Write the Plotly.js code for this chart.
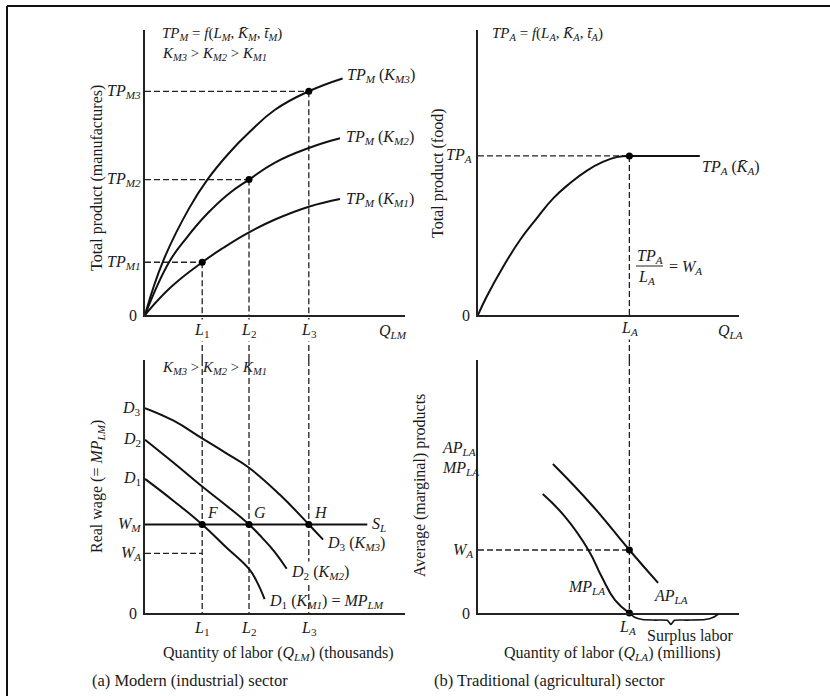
<!DOCTYPE html>
<html>
<head>
<meta charset="utf-8">
<script src="https://cdn.plot.ly/plotly-3.0.1.min.js"></script>
<style>html,body{margin:0;padding:0;background:#fff;}#chart{width:830px;height:696px;}</style>
</head>
<body>
<div id="chart"></div>
<script>
// ---------- DATA ----------
// (a) Modern sector — top: total product curves
const L_M = [2.2, 4.0, 6.3];               // L1, L2, L3
const TP_M = [1.85, 4.75, 7.85];           // TP_M1, TP_M2, TP_M3
const tpK3_x = [0, 0.7, 1.7, 2.4, 3.2, 4.0, 5.0, 6.3, 7.6];
const tpK3_y = [0, 1.9, 3.75, 4.75, 5.65, 6.4, 7.2, 7.85, 8.3];
const tpK2_x = [0, 0.93, 1.6, 2.4, 3.2, 4.0, 5.0, 6.3, 7.5];
const tpK2_y = [0, 1.86, 2.71, 3.56, 4.24, 4.75, 5.35, 5.86, 6.2];
const tpK1_x = [0, 1.0, 2.2, 3.0, 4.0, 5.0, 6.3, 7.5];
const tpK1_y = [0, 0.98, 1.85, 2.35, 2.9, 3.35, 3.8, 4.07];
// (a) Modern sector — bottom: labour demand curves
const W_M = 3.5;
const W_A_mod = 2.36;
const SL_end = 8.55;
const d3_x = [0, 1.1, 2.2, 3.1, 4.0, 5.2, 6.3, 6.85];
const d3_y = [8.1, 7.6, 6.9, 6.33, 5.74, 4.66, 3.5, 2.9];
const d2_x = [0, 1.1, 2.2, 3.1, 4.0, 4.5, 5.0, 5.45];
const d2_y = [6.85, 5.94, 5.0, 4.27, 3.5, 2.98, 2.4, 1.75];
const d1_x = [0, 1.1, 2.2, 3.1, 4.0, 4.3, 4.6];
const d1_y = [5.3, 4.43, 3.5, 2.62, 1.74, 1.24, 0.55];
// (b) Traditional sector — top: total product
const L_A = 5.8;
const TP_A = 5.58;
const tpA_x = [0, 0.33, 0.97, 1.61, 2.25, 2.89, 3.52, 4.16, 4.8, 5.31, 5.8];
const tpA_y = [0, 0.64, 1.70, 2.63, 3.39, 4.1, 4.62, 5.06, 5.38, 5.54, 5.58];
const tpA_flat_x = [5.8, 8.5];
const tpA_flat_y = [5.58, 5.58];
// (b) Traditional sector — bottom: AP and MP
const W_A = 2.49;
const ap_x = [2.87, 4.36, 5.8, 6.9];
const ap_y = [5.89, 4.27, 2.49, 1.19];
const mp_x = [2.48, 3.33, 4.23, 4.74, 5.25, 5.8];
const mp_y = [4.7, 3.81, 2.49, 1.43, 0.51, 0];
const brace_x = [5.8, 6.0, 6.3, 6.8, 7.25, 7.39, 7.53, 8.0, 8.7, 9.0, 9.2];
const brace_y = [0, -0.17, -0.26, -0.28, -0.29, -0.45, -0.29, -0.28, -0.26, -0.18, -0.05];

// ---------- LAYOUT HELPERS ----------
const W = 830, H = 696;
const X = px => px / W;
const Y = py => 1 - py / H;
const domL = [X(145), X(405)], domR = [X(478), X(739)];
const domT = [Y(315), Y(30)], domB = [Y(613), Y(360)], domBrace = [Y(633), Y(613)];

const FONT = 'Liberation Serif, Times New Roman, serif';
const INK = '#1a1a1a';
const lineStyle = {color: '#111', width: 2};

function curve(x, y, xa, ya, shape) {
  return {x: x, y: y, xaxis: xa, yaxis: ya, type: 'scatter', mode: 'lines',
    line: Object.assign({shape: shape || 'spline', smoothing: 1.3}, lineStyle),
    hoverinfo: 'skip', showlegend: false};
}
function dots(x, y, xa, ya) {
  return {x: x, y: y, xaxis: xa, yaxis: ya, type: 'scatter', mode: 'markers',
    marker: {color: '#000', size: 7}, cliponaxis: false, hoverinfo: 'skip', showlegend: false};
}

const traces = [
  curve(tpK3_x, tpK3_y, 'x', 'y'),
  curve(tpK2_x, tpK2_y, 'x', 'y'),
  curve(tpK1_x, tpK1_y, 'x', 'y'),
  dots(L_M, TP_M, 'x', 'y'),
  curve(d3_x, d3_y, 'x3', 'y3'),
  curve(d2_x, d2_y, 'x3', 'y3'),
  curve(d1_x, d1_y, 'x3', 'y3'),
  curve([0, SL_end], [W_M, W_M], 'x3', 'y3', 'linear'),
  dots(L_M, [W_M, W_M, W_M], 'x3', 'y3'),
  curve(tpA_x, tpA_y, 'x2', 'y2'),
  curve(tpA_flat_x, tpA_flat_y, 'x2', 'y2', 'linear'),
  dots([L_A], [TP_A], 'x2', 'y2'),
  curve(ap_x, ap_y, 'x4', 'y4'),
  curve(mp_x, mp_y, 'x4', 'y4'),
  dots([L_A, L_A], [W_A, 0], 'x4', 'y4'),
  Object.assign(curve(brace_x, brace_y, 'x4', 'y5'), {line: {color: '#111', width: 1.6, shape: 'spline', smoothing: 0.6}})
];

// ---------- SHAPES (guide lines, frame) ----------
const dash = {color: '#222', width: 1.3, dash: '6px,3px'};
const shapes = [];
function seg(xref, yref, x0, y0, x1, y1, line) {
  shapes.push({type: 'line', xref: xref, yref: yref, x0: x0, y0: y0, x1: x1, y1: y1, line: line || dash, layer: 'below'});
}
L_M.forEach((L, i) => {
  seg('x', 'y', 0, TP_M[i], L, TP_M[i]);
  seg('x', 'y', L, TP_M[i], L, 0);
  seg('x', 'paper', L, domB[1], L, domT[0]);
  seg('x3', 'y3', L, 10, L, 0);
});
seg('x3', 'y3', 0, W_A_mod, L_M[0], W_A_mod);
seg('x2', 'y2', 0, TP_A, L_A, TP_A);
seg('x2', 'y2', L_A, TP_A, L_A, 0);
seg('x2', 'paper', L_A, domB[1], L_A, domT[0]);
seg('x4', 'y4', L_A, 10, L_A, 0);
seg('x4', 'y4', 0, W_A, L_A, W_A);
// fraction bar
seg('paper', 'paper', X(636), Y(266), X(663), Y(266), {color: '#222', width: 1});
// frame
seg('paper', 'paper', X(7), Y(6), 1, Y(6), {color: '#111', width: 2});
seg('paper', 'paper', X(7), Y(6), X(7), 0, {color: '#111', width: 2});

// ---------- ANNOTATIONS ----------
const ann = [];
const BASE = 16;
function A(text, x, y, o) {
  ann.push(Object.assign({text: text, x: x, y: y, xref: 'paper', yref: 'paper', showarrow: false,
    xanchor: 'center', yanchor: 'middle', font: {family: FONT, size: BASE, color: INK}}, o || {}));
}
const eqFont = {family: FONT, size: 15, color: INK};
const capFont = {family: FONT, size: 16.5, color: INK};
const ineq = '<i>K<sub>M3</sub></i> > <i>K<sub>M2</sub></i> > <i>K<sub>M1</sub></i>';
const Lsub = ['<i>L</i><sub>1</sub>', '<i>L</i><sub>2</sub>', '<i>L</i><sub>3</sub>'];

// Top-left
A('<i>TP<sub>M</sub></i> = <i>f</i>(<i>L<sub>M</sub></i>, <i>K\u0304<sub>M</sub></i>, <i>t\u0304<sub>M</sub></i>)', X(160), Y(34), {xanchor: 'left', font: eqFont});
A(ineq, X(160), Y(54), {xanchor: 'left', font: eqFont});
['<i>TP<sub>M1</sub></i>', '<i>TP<sub>M2</sub></i>', '<i>TP<sub>M3</sub></i>'].forEach((t, i) =>
  A(t, X(143), TP_M[i], {xanchor: 'right', yref: 'y'}));
A('0', X(139), 0, {xanchor: 'right', yref: 'y'});
L_M.forEach((L, i) => A(Lsub[i], L, Y(330), {xref: 'x', bgcolor: '#fff'}));
A('<i>Q<sub>LM</sub></i>', X(393), Y(331));
A('<i>TP<sub>M</sub></i> (<i>K<sub>M3</sub></i>)', tpK3_x[tpK3_x.length - 1], tpK3_y[tpK3_y.length - 1], {xref: 'x', yref: 'y', xanchor: 'left', xshift: 2, yshift: 3});
A('<i>TP<sub>M</sub></i> (<i>K<sub>M2</sub></i>)', tpK2_x[tpK2_x.length - 1], tpK2_y[tpK2_y.length - 1], {xref: 'x', yref: 'y', xanchor: 'left', xshift: 4, yshift: 1});
A('<i>TP<sub>M</sub></i> (<i>K<sub>M1</sub></i>)', tpK1_x[tpK1_x.length - 1], tpK1_y[tpK1_y.length - 1], {xref: 'x', yref: 'y', xanchor: 'left', xshift: 4, yshift: 0});
A('Total product (manufactures)', X(97), Y(178), {textangle: -90});

// Bottom-left
A(ineq, X(160), Y(368), {xanchor: 'left', font: eqFont});
A('<i>D</i><sub>3</sub>', X(143), d3_y[0], {xanchor: 'right', yref: 'y3'});
A('<i>D</i><sub>2</sub>', X(143), d2_y[0], {xanchor: 'right', yref: 'y3'});
A('<i>D</i><sub>1</sub>', X(143), d1_y[0], {xanchor: 'right', yref: 'y3'});
A('<i>W<sub>M</sub></i>', X(143), W_M, {xanchor: 'right', yref: 'y3'});
A('<i>W<sub>A</sub></i>', X(143), W_A_mod, {xanchor: 'right', yref: 'y3'});
A('0', X(139), 0, {xanchor: 'right', yref: 'y3'});
['<i>F</i>', '<i>G</i>', '<i>H</i>'].forEach((t, i) =>
  A(t, L_M[i], W_M, {xref: 'x3', yref: 'y3', xanchor: 'left', yanchor: 'bottom', xshift: 3, yshift: 1}));
A('<i>S<sub>L</sub></i>', SL_end, W_M, {xref: 'x3', yref: 'y3', xanchor: 'left', xshift: 3});
A('<i>D</i><sub>3</sub> (<i>K<sub>M3</sub></i>)', d3_x[d3_x.length - 1], d3_y[d3_y.length - 1], {xref: 'x3', yref: 'y3', xanchor: 'left', xshift: 2, yshift: -4});
A('<i>D</i><sub>2</sub> (<i>K<sub>M2</sub></i>)', d2_x[d2_x.length - 1], d2_y[d2_y.length - 1], {xref: 'x3', yref: 'y3', xanchor: 'left', xshift: 2, yshift: -4, bgcolor: '#fff'});
A('<i>D</i><sub>1</sub> (<i>K<sub>M1</sub></i>) = <i>MP<sub>LM</sub></i>', d1_x[d1_x.length - 1], d1_y[d1_y.length - 1], {xref: 'x3', yref: 'y3', xanchor: 'left', xshift: 2, yshift: -2});
L_M.forEach((L, i) => A(Lsub[i], L, Y(628), {xref: 'x3'}));
A('Quantity of labor (<i>Q<sub>LM</sub></i>) (thousands)', X(278), Y(653));
A('(a) Modern (industrial) sector', X(90), Y(680), {xanchor: 'left', font: capFont});
A('Real wage (= <i>MP<sub>LM</sub></i>)', X(97), Y(487), {textangle: -90});

// Top-right
A('<i>TP<sub>A</sub></i> = <i>f</i>(<i>L<sub>A</sub></i>, <i>K\u0304<sub>A</sub></i>, <i>t\u0304<sub>A</sub></i>)', X(490), Y(34), {xanchor: 'left', font: eqFont});
A('<i>TP<sub>A</sub></i>', X(474), TP_A, {xanchor: 'right', yref: 'y2'});
A('0', X(472), 0, {xanchor: 'right', yref: 'y2'});
A('<i>L<sub>A</sub></i>', L_A, Y(328), {xref: 'x2', bgcolor: '#fff'});
A('<i>Q<sub>LA</sub></i>', X(730), Y(331));
A('<i>TP<sub>A</sub></i> (<i>K\u0304<sub>A</sub></i>)', tpA_flat_x[1], TP_A, {xref: 'x2', yref: 'y2', xanchor: 'left', yshift: -12});
A('<i>TP<sub>A</sub></i>', X(650), Y(256));
A('<i>L<sub>A</sub></i>', X(646), Y(277));
A('= <i>W<sub>A</sub></i>', X(667), Y(267), {xanchor: 'left'});
A('Total product (food)', X(438), Y(173), {textangle: -90});

// Bottom-right
A('<i>AP<sub>LA</sub></i>', X(440), Y(448), {xanchor: 'left'});
A('<i>MP<sub>LA</sub></i>', X(440), Y(468), {xanchor: 'left'});
A('<i>W<sub>A</sub></i>', X(475), W_A, {xanchor: 'right', yref: 'y4'});
A('0', X(472), 0, {xanchor: 'right', yref: 'y4'});
A('<i>MP<sub>LA</sub></i>', X(586), Y(587));
A('<i>AP<sub>LA</sub></i>', X(652), Y(596), {xanchor: 'left'});
A('<i>L<sub>A</sub></i>', L_A, Y(627), {xref: 'x4', xshift: -2});
A('Surplus labor', X(645), Y(636), {xanchor: 'left'});
A('Quantity of labor (<i>Q<sub>LA</sub></i>) (millions)', X(612), Y(653));
A('(b) Traditional (agricultural) sector', X(432), Y(680), {xanchor: 'left', font: capFont});
A('Average (marginal) products', X(420), Y(485), {textangle: -90});

// ---------- AXES ----------
function ax(domain, anchor, range, extra) {
  return Object.assign({domain: domain, anchor: anchor, range: range, showline: true, linecolor: '#222', linewidth: 1.6,
    showgrid: false, zeroline: false, showticklabels: false, ticks: '', fixedrange: true}, extra || {});
}
const layout = {
  width: W, height: H,
  margin: {l: 0, r: 0, t: 0, b: 0},
  paper_bgcolor: '#fff', plot_bgcolor: 'rgba(0,0,0,0)',
  showlegend: false,
  font: {family: FONT, size: BASE, color: INK},
  xaxis: ax(domL, 'y', [0, 10]),
  yaxis: ax(domT, 'x', [0, 10]),
  xaxis2: ax(domR, 'y2', [0, 10]),
  yaxis2: ax(domT, 'x2', [0, 10]),
  xaxis3: ax(domL, 'y3', [0, 10]),
  yaxis3: ax(domB, 'x3', [0, 10]),
  xaxis4: ax(domR, 'y4', [0, 10]),
  yaxis4: ax(domB, 'x4', [0, 10]),
  yaxis5: ax(domBrace, 'x4', [-0.79, 0], {showline: false, visible: false}),
  shapes: shapes,
  annotations: ann
};
Plotly.newPlot('chart', traces, layout, {staticPlot: true, displayModeBar: false});
</script>
</body>
</html>
